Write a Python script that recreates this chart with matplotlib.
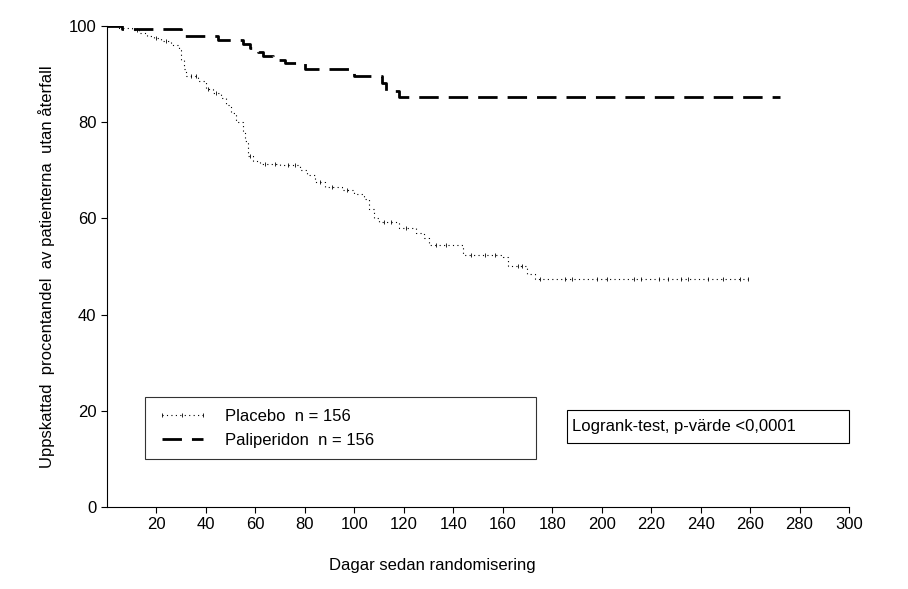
import matplotlib
matplotlib.use("Agg")
import matplotlib.pyplot as plt
from matplotlib.lines import Line2D
from matplotlib.patches import Rectangle

plt.rcParams['font.family'] = ['Liberation Sans', 'DejaVu Sans']

# Kaplan-Meier steps (day, percent)
placebo_days = [0, 5, 10, 13, 16, 19, 22, 26, 29, 30, 31, 32, 37, 40, 43, 46, 48,
                50, 52, 55, 56, 57, 59, 62, 70, 78, 81, 84, 88, 95, 100, 104, 106,
                108, 110, 118, 125, 128, 130, 144, 160, 162, 170, 173, 259]
placebo_surv = [100, 99.6, 99.2, 98.6, 98, 97.4, 96.8, 96, 95, 93, 91, 89.5, 88.5,
                87, 86, 85, 83.5, 82, 80, 78, 76, 73, 72, 71.3, 71, 70, 69, 67.5,
                66.5, 66, 65, 64, 62, 60, 59.3, 58, 57, 56, 54.5, 52.4, 52, 50,
                48.5, 47.3, 47.3]
placebo_censor = [12, 20, 24, 34, 36, 41, 44, 58, 64, 68, 73, 76, 86, 91, 97,
                  112, 115, 121, 133, 137, 147, 153, 157, 166, 168, 175, 185, 188,
                  198, 202, 213, 216, 223, 227, 232, 235, 243, 249, 256, 259]

pali_days = [0, 6, 30, 45, 55, 58, 61, 63, 67, 72, 80, 100, 111, 113, 118, 272]
pali_surv = [100, 99.4, 98, 97, 96.2, 95.5, 94.5, 93.8, 93, 92.3, 91, 89.7, 88.2,
             86.5, 85.2, 85.2]

x_ticks = list(range(20, 301, 20))
y_ticks = [0, 20, 40, 60, 80, 100]


def surv_at(days, surv, t):
    val = surv[0]
    for d, s in zip(days, surv):
        if d <= t:
            val = s
    return val


fig = plt.figure(figsize=(9.08, 5.89), dpi=100)
ax = fig.add_axes([0.1178, 0.1392, 0.8172, 0.8167])

ax.step(placebo_days, placebo_surv, where='post', color='black',
        linestyle=(0, (1, 3)), linewidth=0.8)
ax.plot(placebo_censor, [surv_at(placebo_days, placebo_surv, t) for t in placebo_censor],
        linestyle='none', marker='|', markersize=3, markeredgewidth=0.6, color='black')
ax.step(pali_days, pali_surv, where='post', color='black',
        linestyle=(0, (7, 3.6)), linewidth=2)

ax.set_xlim(0, 300)
ax.set_ylim(0, 100)
ax.set_xticks(x_ticks)
ax.set_yticks(y_ticks)
ax.tick_params(labelsize=12, length=4, width=0.8, direction='out')
for side in ['top', 'right']:
    ax.spines[side].set_visible(False)
for side in ['left', 'bottom']:
    ax.spines[side].set_linewidth(0.8)

ax.set_xlabel("Dagar sedan randomisering", fontsize=12)
ax.xaxis.set_label_coords(0.438, -0.106)
ax.set_ylabel("Uppskattad  procentandel  av patienterna  utan återfall", fontsize=12)
ax.yaxis.set_label_coords(-0.070, 0.50)

handles = [
    Line2D([], [], color='black', linestyle=(0, (1, 3)), linewidth=0.8,
           marker='|', markersize=3, markeredgewidth=0.6),
    Line2D([], [], color='black', linestyle=(0, (7, 3.6)), linewidth=2),
]
leg = ax.legend(handles, ["Placebo  n = 156", "Paliperidon  n = 156"],
                loc='upper left', bbox_to_anchor=(0.0512, 0.0977, 0.527, 0.131),
                mode='expand', fontsize=12, frameon=True, fancybox=False,
                edgecolor='black', handlelength=3.1, handletextpad=1.0,
                labelspacing=0.55, borderpad=0.7, borderaxespad=0, numpoints=3)
leg.get_frame().set_linewidth(0.8)

ax.add_patch(Rectangle((0.62, 0.133), 0.38, 0.069, transform=ax.transAxes,
                       fill=False, edgecolor='black', linewidth=0.8, clip_on=False))
ax.text(0.627, 0.167, "Logrank-test, p-värde <0,0001", transform=ax.transAxes,
        fontsize=12, va='center', ha='left')

fig.savefig("out.png", dpi=100)
